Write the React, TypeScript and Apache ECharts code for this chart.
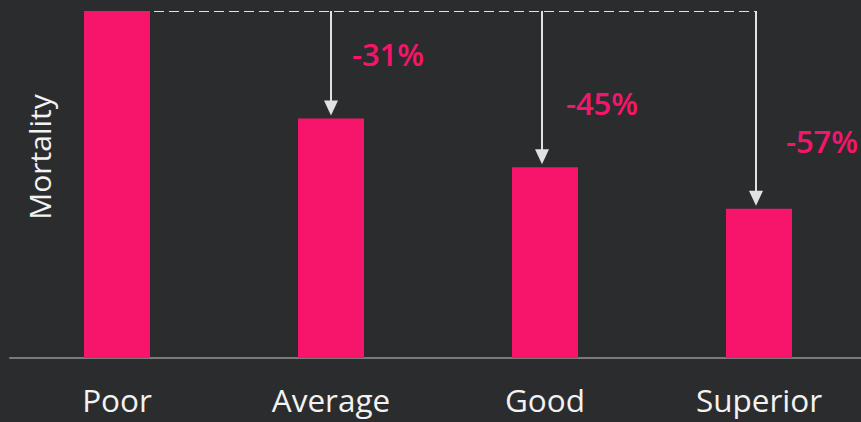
import React, { useEffect, useRef } from "react";
import * as echarts from "echarts";

const categories = ["Poor", "Average", "Good", "Superior"];
const mortality = [100, 69, 55, 43];
const axisTitle = "Mortality";

const BG = "#2b2c2e";
const PINK = "#f7146b";
const ARROW = "#e2e2e2";
const FONT = "'Open Sans', sans-serif";
const BAR_W = 66;

export default function App() {
  const ref = useRef<HTMLDivElement>(null);
  useEffect(() => {
    if (!ref.current) return;
    const chart = echarts.init(ref.current, null, { renderer: "svg" });
    const base = mortality[0];
    const arrowData = mortality.slice(1).map((v, i) => [i + 1, v]);
    const lastIdx = arrowData.length - 1;

    chart.setOption({
      animation: false,
      backgroundColor: BG,
      textStyle: { fontFamily: FONT },
      grid: {
        left: 10,
        width: 856,
        top: 11,
        bottom: 64,
        containLabel: false,
        outerBoundsMode: "none",
      },
      xAxis: {
        type: "category",
        data: categories,
        axisLine: { lineStyle: { color: "#7a7a7a", width: 2 } },
        axisTick: { show: false },
        axisLabel: { color: "#f2f2f2", fontSize: 31.5, margin: 25, fontFamily: FONT },
      },
      yAxis: {
        type: "value",
        min: 0,
        max: 100,
        show: false,
        splitLine: { show: false },
      },
      graphic: [
        {
          type: "text",
          x: 39,
          y: 157,
          rotation: Math.PI / 2,
          style: {
            text: axisTitle,
            fill: "#f2f2f2",
            fontSize: 30,
            fontFamily: FONT,
            align: "center",
            verticalAlign: "middle",
          },
        },
      ],
      series: [
        {
          type: "bar",
          barWidth: BAR_W,
          itemStyle: { color: PINK },
          data: mortality.map((v, i) =>
            i === 0
              ? { value: v, label: { show: false } }
              : i === mortality.length - 1
              ? { value: v, label: { offset: [63, -47] } }
              : { value: v }
          ),
          label: {
            show: true,
            position: "top",
            offset: [57, -44],
            color: PINK,
            fontSize: 31,
            fontWeight: 600,
            fontFamily: FONT,
            formatter: (p: any) =>
              Math.round((p.value / base - 1) * 100) + "%",
          },
          z: 2,
        },
        {
          type: "custom",
          data: arrowData,
          z: 3,
          renderItem: (params: any, api: any) => {
            const idx = api.value(0);
            const val = api.value(1);
            const top = api.coord([idx, base]);
            const end = api.coord([idx, val]);
            const x = top[0] - (idx > 1 ? 3 : 0);
            const tipY = end[1] - 3;
            const head = 15;
            const halfW = 7;
            const children: any[] = [
              {
                type: "line",
                shape: { x1: x, y1: top[1], x2: x, y2: tipY - head + 1 },
                style: { stroke: ARROW, lineWidth: 2 },
              },
              {
                type: "polygon",
                shape: {
                  points: [
                    [x - halfW, tipY - head],
                    [x + halfW, tipY - head],
                    [x, tipY],
                  ],
                },
                style: { fill: ARROW },
              },
            ];
            if (params.dataIndex === lastIdx) {
              const p0 = api.coord([0, base]);
              children.push({
                type: "line",
                shape: {
                  x1: p0[0] + BAR_W / 2 + 4,
                  y1: top[1] + 0.5,
                  x2: x,
                  y2: top[1] + 0.5,
                },
                style: { stroke: ARROW, lineWidth: 1, lineDash: [10, 5] },
              });
            }
            return { type: "group", children };
          },
        },
      ],
    });
    return () => chart.dispose();
  }, []);

  return (
    <div
      ref={ref}
      style={{ position: "absolute", left: 0, top: 0, width: 861, height: 422 }}
    />
  );
}
